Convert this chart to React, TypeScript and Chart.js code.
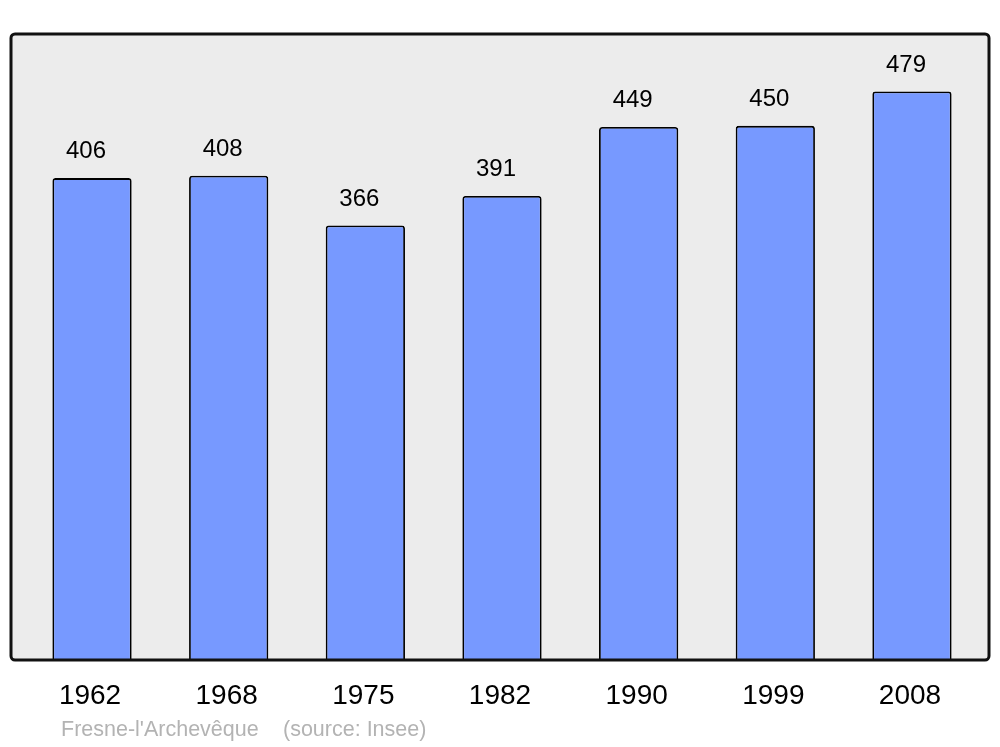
import React, { useEffect, useRef } from "react";
import { Chart, registerables } from "chart.js";

Chart.register(...registerables);

const years = ["1962", "1968", "1975", "1982", "1990", "1999", "2008"];
const population = [406, 408, 366, 391, 449, 450, 479];
const footerPlace = "Fresne-l'Archevêque";
const footerSource = "(source: Insee)";

const FONT = "'Liberation Sans', Arial, sans-serif";

const framePlugin = {
  id: "frame",
  beforeDatasetsDraw(chart: any) {
    const { ctx, chartArea } = chart;
    const l = chartArea.left - 12.7;
    const r = chartArea.right + 8.7;
    ctx.save();
    ctx.fillStyle = "#ececec";
    ctx.beginPath();
    ctx.roundRect(l, chartArea.top, r - l, chartArea.bottom - chartArea.top, 4);
    ctx.fill();
    ctx.restore();
  },
  afterDatasetsDraw(chart: any) {
    const { ctx, chartArea } = chart;
    const l = chartArea.left - 12.7;
    const r = chartArea.right + 8.7;
    ctx.save();
    ctx.strokeStyle = "#111111";
    ctx.lineWidth = 3;
    ctx.beginPath();
    ctx.roundRect(l, chartArea.top, r - l, chartArea.bottom - chartArea.top, 4);
    ctx.stroke();

    // value labels
    const meta = chart.getDatasetMeta(0);
    ctx.fillStyle = "#000000";
    ctx.font = `24px ${FONT}`;
    ctx.textAlign = "center";
    ctx.textBaseline = "middle";
    meta.data.forEach((bar: any, i: number) => {
      ctx.fillText(String(chart.data.datasets[0].data[i]), bar.x - 6, bar.y - 26.5);
    });

    // category labels
    const xs = chart.scales.x;
    ctx.font = `28px ${FONT}`;
    years.forEach((label, i) => {
      ctx.fillText(label, xs.getPixelForValue(i) - 2, chartArea.bottom + 36.5);
    });

    // footer
    ctx.fillStyle = "#b3b3b3";
    ctx.font = `21.5px ${FONT}`;
    ctx.textAlign = "left";
    ctx.fillText(footerPlace, 61, chartArea.bottom + 70.5);
    ctx.fillText(footerSource, 283, chartArea.bottom + 70.5);
    ctx.restore();
  },
};

export default function App() {
  const ref = useRef<HTMLCanvasElement>(null);
  useEffect(() => {
    document.body.style.margin = "0";
    const chart = new Chart(ref.current!, {
      type: "bar",
      data: {
        labels: years,
        datasets: [
          {
            data: population,
            backgroundColor: "#7799ff",
            borderColor: "#000000",
            borderWidth: 1.8,
            borderRadius: { topLeft: 3, topRight: 3, bottomLeft: 0, bottomRight: 0 },
            borderSkipped: "bottom",
            categoryPercentage: 1,
            barPercentage: 0.58,
          },
        ],
      },
      options: {
        responsive: false,
        animation: false,
        layout: { padding: { left: 23.7, right: 19.7, top: 34, bottom: 87 } },
        plugins: { legend: { display: false }, tooltip: { enabled: false } },
        scales: {
          x: { display: false, offset: true },
          y: { display: false, min: 0, max: 527.4 },
        },
      },
      plugins: [framePlugin],
    });
    return () => chart.destroy();
  }, []);
  return (
    <div style={{ position: "absolute", left: 0, top: 0, width: 1000, height: 747, background: "#fff" }}>
      <canvas ref={ref} width={1000} height={747} />
    </div>
  );
}
